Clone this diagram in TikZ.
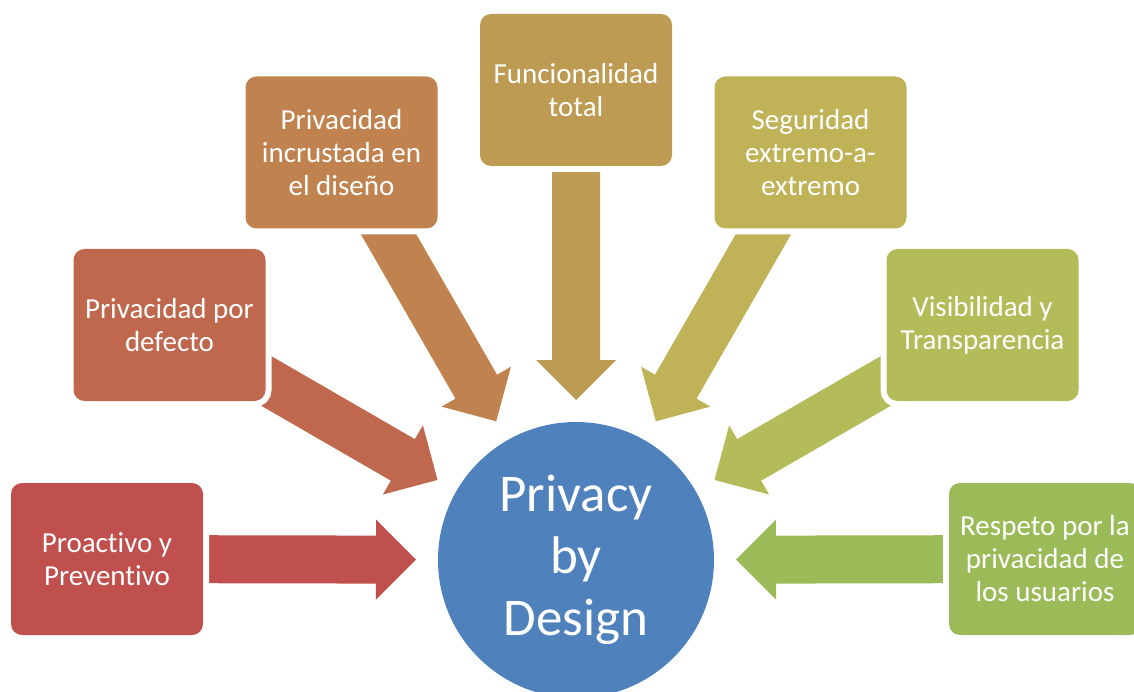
\documentclass[tikz,border=0pt]{standalone}
\usepackage{fontspec}
\setmainfont{Carlito}[Ligatures={NoCommon}]
\usetikzlibrary{calc}
\pgfdeclarelayer{bg}
\pgfsetlayers{bg,main}
\definecolor{c1}{HTML}{C0504D}
\definecolor{c2}{HTML}{C0684E}
\definecolor{c3}{HTML}{C0834F}
\definecolor{c4}{HTML}{BE9B52}
\definecolor{c5}{HTML}{C0B257}
\definecolor{c6}{HTML}{B3BC59}
\definecolor{c7}{HTML}{9BBB59}
\definecolor{cb}{HTML}{4F81BD}
\newcommand\radarrow[2]{%
  \fill[#2] ($(pbd.center)!160pt!(#1.center)$)
   -- ($(pbd.center)!200pt!(#1.center)!40pt!90:(#1.center)$)
   -- ($(pbd.center)!200pt!(#1.center)!24pt!90:(#1.center)$)
   -- ($(pbd.center)!420pt!(#1.center)!24pt!90:(#1.center)$)
   -- ($(pbd.center)!420pt!(#1.center)!24pt!-90:(#1.center)$)
   -- ($(pbd.center)!200pt!(#1.center)!24pt!-90:(#1.center)$)
   -- ($(pbd.center)!200pt!(#1.center)!40pt!-90:(#1.center)$) -- cycle;}
\begin{document}
\begin{tikzpicture}[x=1pt,y=1pt,
  box/.style={rounded corners=11pt, minimum width=192pt, minimum height=152pt,
    inner sep=0pt, text=white, align=center,
    font=\fontsize{29}{33}\selectfont,
    preaction={draw=white, line width=12pt}},
  hub/.style={circle, fill=cb, minimum size=276pt, inner sep=0pt, text=white,
    align=center, font=\fontsize{53}{62}\selectfont}]
\useasboundingbox (0,0) rectangle (1134,-692);
\node[hub] (pbd) at (576,-560) {Privacy\\by\\Design};
\node[box, fill=c1] (b1) at (107,-559) {Proactivo y\\Preventivo};
\node[box, fill=c2] (b2) at (169.5,-325) {Privacidad por\\defecto};
\node[box, fill=c3] (b3) at (341.5,-152.5) {Privacidad\\incrustada en\\el diseño};
\node[box, fill=c4] (b4) at (576,-90) {Funcionalidad\\total};
\node[box, fill=c5] (b5) at (810.5,-152.5) {Seguridad\\extremo-a-\\extremo};
\node[box, fill=c6] (b6) at (982.5,-325) {Visibilidad y\\Transparencia};
\node[box, fill=c7] (b7) at (1045,-559) {Respeto por la\\privacidad de\\los usuarios};
\begin{pgfonlayer}{bg}
\radarrow{b1}{c1}
\radarrow{b2}{c2}
\radarrow{b3}{c3}
\radarrow{b4}{c4}
\radarrow{b5}{c5}
\radarrow{b6}{c6}
\radarrow{b7}{c7}
\end{pgfonlayer}
\end{tikzpicture}
\end{document}
